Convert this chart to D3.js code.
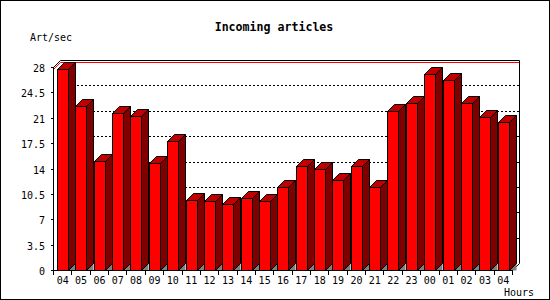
<!DOCTYPE html>
<html><head><meta charset="utf-8">
<script src="https://cdn.jsdelivr.net/npm/d3@7/dist/d3.min.js"></script>
<style>
html,body{margin:0;padding:0;background:#fff;}
svg{display:block;}
text{font-family:"DejaVu Sans Mono","Liberation Mono",monospace;fill:#000;}
</style></head>
<body>
<svg id="chart" width="550" height="300"></svg>
<script>
// ---- data ----
const hours = ["04","05","06","07","08","09","10","11","12","13","14","15","16","17","18","19","20","21","22","23","00","01","02","03","04"];
const artPerSec = [27.7,22.6,15.0,21.6,21.2,14.7,17.75,9.6,9.5,9.06,10.0,9.5,11.4,14.3,13.9,12.4,14.3,11.5,22.0,23.0,27.1,26.2,23.1,21.1,20.4];
const yTicks = [0,3.5,7,10.5,14,17.5,21,24.5,28];
const yTickLabels = ["0","3.5","7","10.5","14","17.5","21","24.5","28"];
const chartTitle = "Incoming articles";
const yTitle = "Art/sec";
const xTitle = "Hours";

(function(){
// ---- layout ----
const W = 550, H = 300;
const pLeft = 53.5, pRight = 512.5, pBottom = 270, pTop = 67;
const depth = 7;

const svg = d3.select("#chart");
svg.append("rect").attr("x",0.5).attr("y",0.5).attr("width",W-1).attr("height",H-1)
  .attr("fill","#fff").attr("stroke","#000");

const x = d3.scaleBand().domain(d3.range(hours.length)).range([pLeft, pRight]).padding(0);
const y = d3.scaleLinear().domain([0,28]).range([pBottom, pTop]);

// back wall gridlines (dotted)
const g = svg.append("g");
yTicks.filter(t => t > 0 && t < 28).forEach(t => {
  const yy = Math.round(y(t) - depth) + 0.5;
  g.append("line").attr("x1", pLeft + depth).attr("x2", pRight + depth)
    .attr("y1", yy).attr("y2", yy)
    .attr("stroke","#000").attr("stroke-dasharray","2,2").attr("shape-rendering","crispEdges");
});

// max line (red)
const maxV = d3.max(artPerSec);
const ym = Math.round(y(maxV)) + 0.5;
g.append("polyline")
  .attr("points", `${pLeft},${ym} ${pLeft+depth},${ym-depth} ${pRight+depth},${ym-depth}`)
  .attr("fill","none").attr("stroke","#ff0000");

// frame of back wall
const yT = Math.round(y(28)) + 0.5;
g.append("polyline")
  .attr("points", `${pLeft},${yT} ${pLeft+depth},${yT-depth} ${pRight+depth},${yT-depth} ${pRight+depth},${pBottom+0.5-depth} ${pRight},${pBottom+0.5}`)
  .attr("fill","none").attr("stroke","#000");

// bars
const bars = svg.append("g");
artPerSec.forEach((v, i) => {
  const x0 = Math.round(x(i) + 3.5) + 0.5;
  const w = 11;
  const x1 = x0 + w;
  const yv = Math.round(y(v)) + 0.5;
  const yb = pBottom + 0.5;
  bars.append("polygon")
    .attr("points", `${x1},${yb} ${x1+depth},${yb-depth} ${x1+depth},${yb}`)
    .attr("fill","#808080").attr("stroke","none");
  bars.append("polygon")
    .attr("points", `${x1},${yv} ${x1+depth},${yv-depth} ${x1+depth},${yb-depth} ${x1},${yb}`)
    .attr("fill","#800000").attr("stroke","#000");
  bars.append("polygon")
    .attr("points", `${x0},${yv} ${x0+depth},${yv-depth} ${x1+depth},${yv-depth} ${x1},${yv}`)
    .attr("fill","#c00000").attr("stroke","#000");
  bars.append("rect").attr("x", x0).attr("y", yv).attr("width", w).attr("height", yb - yv)
    .attr("fill","#ff0000").attr("stroke","#000");
});

// axes lines
const ax = svg.append("g").attr("shape-rendering","crispEdges");
ax.append("line").attr("x1", pLeft).attr("x2", pLeft).attr("y1", y(28)).attr("y2", pBottom + 0.5).attr("stroke","#000");
ax.append("line").attr("x1", pLeft).attr("x2", pRight).attr("y1", pBottom + 0.5).attr("y2", pBottom + 0.5).attr("stroke","#000");

// y ticks + labels
yTicks.forEach((t, i) => {
  const yy = Math.round(y(t)) + 0.5;
  ax.append("line").attr("x1", pLeft - 3).attr("x2", pLeft).attr("y1", yy).attr("y2", yy).attr("stroke","#000");
  svg.append("text").attr("x", 45).attr("y", yy + 4).attr("text-anchor","end")
    .attr("font-size","10px").text(yTickLabels[i]);
});

// x ticks + labels
d3.range(hours.length + 1).forEach(i => {
  const xx = Math.round(pLeft + i * x.step() - 0.5) + 0.5;
  ax.append("line").attr("x1", xx).attr("x2", xx).attr("y1", pBottom).attr("y2", pBottom + 5).attr("stroke","#000");
});
hours.forEach((h, i) => {
  svg.append("text").attr("x", x(i) + x.bandwidth()/2).attr("y", 283.5).attr("text-anchor","middle")
    .attr("font-size","10px").text(h);
});

// titles
svg.append("text").attr("x", 274).attr("y", 30.5).attr("text-anchor","middle")
  .attr("font-size","11.6px").attr("font-weight","bold").text(chartTitle);
svg.append("text").attr("x", 30).attr("y", 40.5).attr("font-size","10px").text(yTitle);
svg.append("text").attr("x", 504).attr("y", 296).attr("font-size","10px").text(xTitle);
})();
</script>
</body></html>
